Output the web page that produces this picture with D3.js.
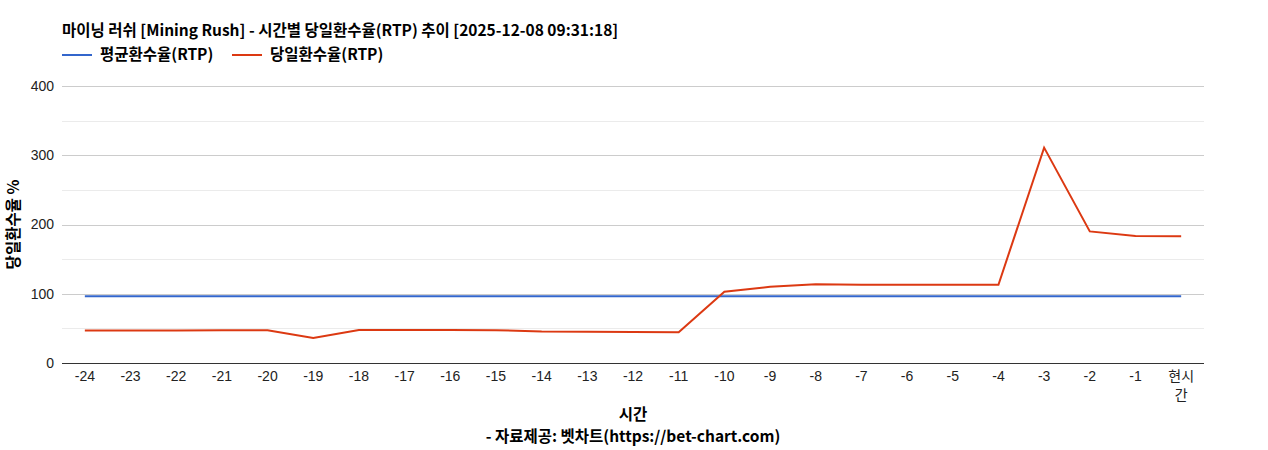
<!DOCTYPE html>
<html>
<head>
<meta charset="utf-8">
<script src="https://cdn.jsdelivr.net/npm/d3@7"></script>
<style>
body { margin: 0; background: #fff; }
text { font-family: Arial, "Liberation Sans", "Noto Sans CJK KR", sans-serif; }
text.kr { font-family: "Noto Sans CJK KR", "Noto Sans", sans-serif; }
</style>
</head>
<body>
<svg id="chart" width="1268" height="450"></svg>
<script>
// hours before now
var hours = ["-24", "-23", "-22", "-21", "-20", "-19", "-18", "-17", "-16", "-15", "-14", "-13",
    "-12", "-11", "-10", "-9", "-8", "-7", "-6", "-5", "-4", "-3", "-2", "-1", "현시간"];
var avgRtp = [96.5, 96.5, 96.5, 96.5, 96.5, 96.5, 96.5, 96.5, 96.5, 96.5, 96.5, 96.5,
    96.5, 96.5, 96.5, 96.5, 96.5, 96.5, 96.5, 96.5, 96.5, 96.5, 96.5, 96.5, 96.5];
var dayRtp = [46.8, 46.8, 46.9, 47.2, 47.3, 36.2, 47.6, 47.5, 47.5, 47.4, 45.5, 45.3,
    44.8, 44.4, 102.9, 110.0, 113.6, 113.0, 113.0, 113.0, 113.0, 311.0, 190.0, 183.5, 183.0];
var yTicks = [0, 100, 200, 300, 400];
var yMinor = [50, 150, 250, 350];
var seriesNames = ["평균환수율(RTP)", "당일환수율(RTP)"];
var seriesColors = ["#3366cc", "#dc3912"];

var svg = d3.select("#chart");
var plotLeft = 62, plotRight = 1204, plotTop = 86, plotBottom = 363;
var boldSize = 15.5;

var x = d3.scaleBand().domain(hours).range([plotLeft, plotRight]);
var y = d3.scaleLinear().domain([0, 400]).range([plotBottom, plotTop]);

// title
svg.append("text").classed("kr", true)
    .attr("x", 62).attr("y", 36)
    .attr("font-size", boldSize).attr("font-weight", "bold")
    .text("마이닝 러쉬 [Mining Rush] - 시간별 당일환수율(RTP) 추이 [2025-12-08 09:31:18]");

// legend
var legendX = [62, 232];
seriesNames.forEach(function (name, i) {
    var g = svg.append("g").attr("transform", "translate(" + legendX[i] + ",55)");
    g.append("line").attr("x1", 0).attr("x2", 30).attr("y1", 0).attr("y2", 0)
        .attr("stroke", seriesColors[i]).attr("stroke-width", 2);
    g.append("text").classed("kr", true).attr("x", 38).attr("y", 5)
        .attr("font-size", boldSize).attr("font-weight", "bold")
        .text(name);
});

// gridlines
svg.append("g").selectAll("line")
    .data(yMinor).enter().append("line")
    .attr("x1", plotLeft).attr("x2", plotRight)
    .attr("y1", function (d) { return Math.round(y(d)) + 0.5; })
    .attr("y2", function (d) { return Math.round(y(d)) + 0.5; })
    .attr("stroke", "#ebebeb");

svg.append("g").selectAll("line")
    .data(yTicks.slice(1)).enter().append("line")
    .attr("x1", plotLeft).attr("x2", plotRight)
    .attr("y1", function (d) { return Math.round(y(d)) + 0.5; })
    .attr("y2", function (d) { return Math.round(y(d)) + 0.5; })
    .attr("stroke", "#cccccc");

// y axis labels
var yAxis = svg.append("g")
    .attr("transform", "translate(" + (plotLeft - 8) + ",0)")
    .call(d3.axisLeft(y).tickValues(yTicks).tickSize(0).tickPadding(0));
yAxis.select(".domain").remove();
yAxis.selectAll("text")
    .attr("font-size", 14).attr("fill", "#222")
    .style("font-family", "Arial, 'Liberation Sans', sans-serif");

// x axis
var xAxis = svg.append("g")
    .attr("transform", "translate(0," + plotBottom + ")")
    .call(d3.axisBottom(x).tickSize(0).tickPadding(0));
xAxis.select(".domain").remove();
xAxis.selectAll("text").remove();
xAxis.selectAll(".tick").each(function (d) {
    var t = d3.select(this).append("text")
        .attr("fill", "#222").attr("font-size", 14)
        .attr("text-anchor", "middle").attr("y", 18);
    if (d === "현시간") {
        t.append("tspan").attr("x", 0).attr("y", 18).text("현시");
        t.append("tspan").attr("x", 0).attr("y", 37).text("간");
    } else {
        t.text(d);
    }
});

svg.append("line")
    .attr("x1", plotLeft).attr("x2", plotRight)
    .attr("y1", plotBottom + 0.5).attr("y2", plotBottom + 0.5)
    .attr("stroke", "#333");

// lines
var line = d3.line()
    .x(function (d, i) { return x(hours[i]) + x.bandwidth() / 2; })
    .y(function (d) { return y(d); });

[avgRtp, dayRtp].forEach(function (vals, i) {
    svg.append("path")
        .datum(vals)
        .attr("fill", "none")
        .attr("stroke", seriesColors[i])
        .attr("stroke-width", 2)
        .attr("d", line);
});

// axis titles
svg.append("text").classed("kr", true)
    .attr("transform", "translate(19," + ((plotTop + plotBottom) / 2) + ") rotate(-90)")
    .attr("text-anchor", "middle")
    .attr("font-size", boldSize).attr("font-weight", "bold")
    .text("당일환수율 %");

svg.append("text").classed("kr", true)
    .attr("x", (plotLeft + plotRight) / 2).attr("y", 420)
    .attr("text-anchor", "middle")
    .attr("font-size", boldSize).attr("font-weight", "bold")
    .text("시간");

svg.append("text").classed("kr", true)
    .attr("x", (plotLeft + plotRight) / 2).attr("y", 442)
    .attr("text-anchor", "middle")
    .attr("font-size", boldSize).attr("font-weight", "bold")
    .text("- 자료제공: 벳차트(https://bet-chart.com)");
</script>
</body>
</html>
